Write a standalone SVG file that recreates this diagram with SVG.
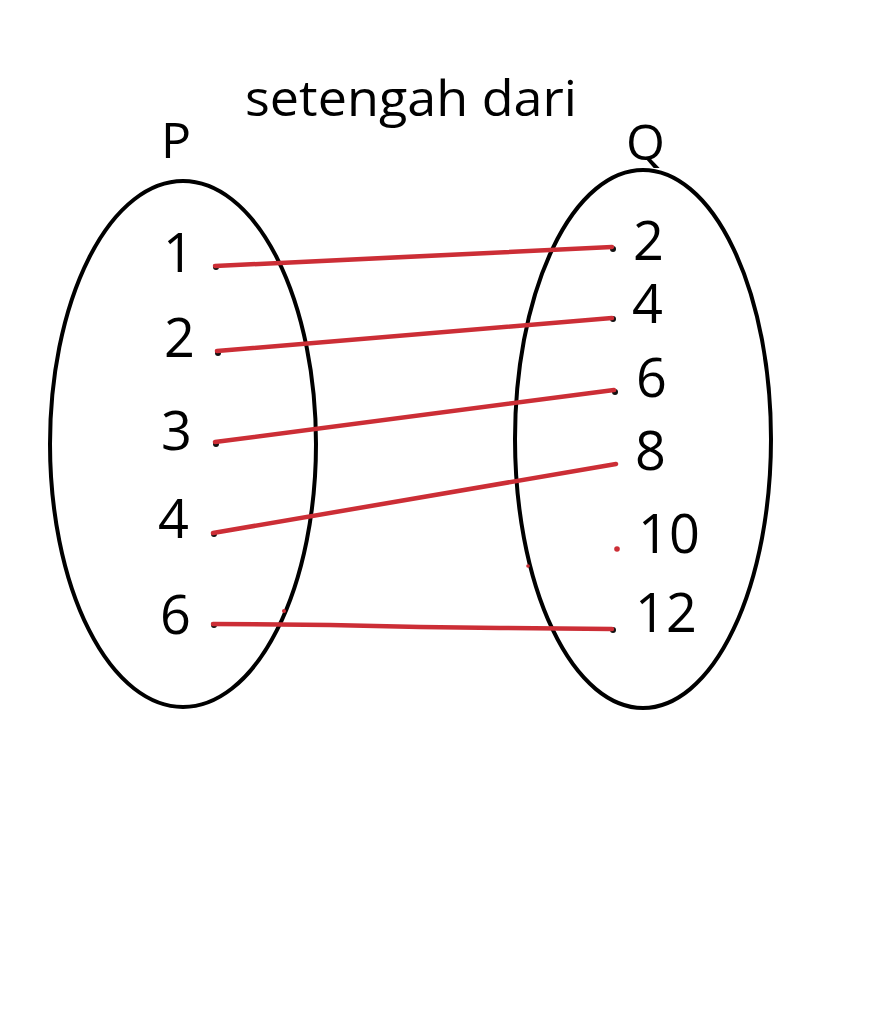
<svg xmlns="http://www.w3.org/2000/svg" width="870" height="1030" viewBox="0 0 870 1030">
<style>
.t{font-family:"Open Sans","Liberation Sans",sans-serif;fill:#000}
.n{font-size:54px}
.set{fill:none;stroke:#000;stroke-width:4}
.ln{stroke:#cc2e36;stroke-width:4.5;stroke-linecap:round;fill:none}
.dot{fill:#111}
</style>
<rect width="870" height="1030" fill="#fff"/>
<text class="t" x="245" y="116" font-size="50" textLength="332" lengthAdjust="spacingAndGlyphs">setengah dari</text>
<g id="setP">
<ellipse class="set" cx="183" cy="444" rx="133" ry="263"/>
<text class="t" x="161" y="158" font-size="50">P</text>
<text class="t n" x="163" y="272">1</text>
<text class="t n" x="164" y="357">2</text>
<text class="t n" x="161" y="450">3</text>
<text class="t n" x="158" y="538">4</text>
<text class="t n" x="160" y="634">6</text>
<circle class="dot" cx="216" cy="267" r="3"/>
<circle class="dot" cx="218" cy="353" r="3"/>
<circle class="dot" cx="216" cy="444" r="3"/>
<circle class="dot" cx="214" cy="534" r="3"/>
<circle class="dot" cx="214" cy="625" r="3"/>
</g>
<g id="setQ">
<ellipse class="set" cx="643" cy="439" rx="128" ry="269"/>
<text class="t" x="626" y="160" font-size="50">Q</text>
<text class="t n" x="633" y="260">2</text>
<text class="t n" x="632" y="323">4</text>
<text class="t n" x="636" y="397">6</text>
<text class="t n" x="635" y="470">8</text>
<text class="t n" x="638" y="553">10</text>
<text class="t n" x="635" y="632">12</text>
<circle class="dot" cx="613" cy="249" r="3"/>
<circle class="dot" cx="613" cy="319" r="3"/>
<circle class="dot" cx="615" cy="392" r="3"/>
<circle cx="617" cy="549" r="2.8" fill="#cc2e36"/>
<circle class="dot" cx="613" cy="630" r="3"/>
</g>
<g id="connectors">
<line class="ln" x1="215" y1="266" x2="612" y2="247"/>
<line class="ln" x1="217" y1="351" x2="612" y2="318"/>
<line class="ln" x1="215" y1="442" x2="614" y2="390"/>
<line class="ln" x1="213" y1="533" x2="616" y2="464"/>
<polyline class="ln" points="213,624 330,625 420,627 500,628 612,629"/>
<circle cx="284" cy="611" r="2" fill="#cc2e36"/>
<circle cx="528" cy="566" r="1.8" fill="#cc2e36"/>
</g>
</svg>
